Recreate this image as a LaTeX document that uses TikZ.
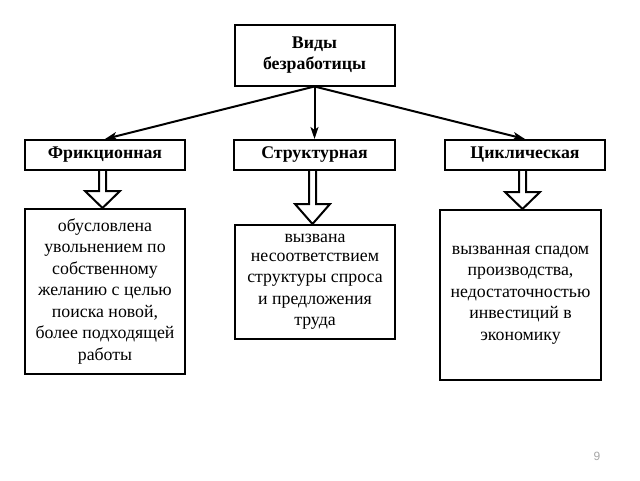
\documentclass[tikz,border=0pt]{standalone}
\usepackage{fontspec}
\setmainfont{Liberation Serif}
\newfontfamily\numfont{Liberation Sans}
\usepackage{tikz}
\usetikzlibrary{arrows.meta,calc}

\tikzset{
  box/.style={draw,line width=2pt,align=center,inner sep=0pt,
    font=\fontsize{17.8}{21.5}\selectfont},
  headbox/.style={box,font=\fontsize{17.8}{21.5}\selectfont\bfseries},
  conn/.style={line width=2pt,-{Stealth[length=12pt,width=8pt,inset=3pt]}},
  hollow/.style={line width=2pt,line join=miter}
}

% hollow block arrow: upper node, lower node, x shift, head length
\newcommand{\downblock}[4]{%
  \draw[hollow] let \p1=($(#1.south)+(#3,0)$), \p2=(#2.north) in
    (\x1-3.5pt,\y1) -- (\x1-3.5pt,\y2+#4pt) -- (\x1-17.5pt,\y2+#4pt)
    -- (\x1,\y2) -- (\x1+17.5pt,\y2+#4pt) -- (\x1+3.5pt,\y2+#4pt)
    -- (\x1+3.5pt,\y1);}

\begin{document}
\begin{tikzpicture}[x=1pt,y=-1pt]
  \useasboundingbox (0,0) rectangle (640,480);

  % top
  \node[headbox,minimum width=160pt,minimum height=61pt] (vidy) at (314.5,55)
    {Виды\\безработицы};

  % kinds
  \node[headbox,minimum width=160pt,minimum height=30pt] (fric) at (105,155) {Фрикционная};
  \node[headbox,minimum width=161pt,minimum height=30pt] (struct) at (314.5,155) {Структурная};
  \node[headbox,minimum width=160pt,minimum height=30pt] (cycl) at (525,155) {Циклическая};

  \draw[conn] (vidy.south) -- (fric.north);
  \draw[conn] (vidy.south) -- (struct.north);
  \draw[conn] (vidy.south) -- (cycl.north);

  % explanations
  \node[box,minimum width=160pt,minimum height=165pt] (fricText) at (105,291.5)
    {обусловлена\\увольнением по\\собственному\\желанию с целью\\поиска новой,\\более подходящей\\работы};
  \node[box,minimum width=160pt,minimum height=114pt] (structText) at (315,282)
    {\raisebox{-3pt}{вызвана}\\несоответствием\\структуры спроса\\и предложения\\труда};
  \node[box,minimum width=161pt,minimum height=170pt] (cyclText) at (520.5,295)
    {вызванная спадом\\производства,\\недостаточностью\\инвестиций в\\экономику};

  \downblock{fric}{fricText}{-2.5}{17}
  \downblock{struct}{structText}{-2}{20}
  \downblock{cycl}{cyclText}{-2.5}{17}

  \node[text=gray!70,font=\numfont\fontsize{12}{14}\selectfont] (pagenum) at (597,456) {9};
\end{tikzpicture}
\end{document}
